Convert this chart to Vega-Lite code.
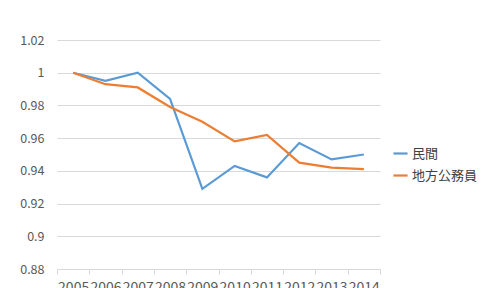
{
  "$schema": "https://vega.github.io/schema/vega-lite/v6.json",
  "width": 323,
  "height": 229,
  "autosize": {"type": "none"},
  "padding": {"left": 57, "top": 40, "right": 118, "bottom": 19},
  "background": "white",
  "config": {
    "view": {"stroke": null},
    "font": "Noto Sans CJK JP",
    "axis": {"labelFont": "Noto Sans CJK JP", "labelColor": "#595959", "labelFontSize": 12.5}
  },
  "data": {"values": [
    {"year": "2005", "series": "民間", "value": 1.0},
    {"year": "2006", "series": "民間", "value": 0.995},
    {"year": "2007", "series": "民間", "value": 1.0},
    {"year": "2008", "series": "民間", "value": 0.984},
    {"year": "2009", "series": "民間", "value": 0.929},
    {"year": "2010", "series": "民間", "value": 0.943},
    {"year": "2011", "series": "民間", "value": 0.936},
    {"year": "2012", "series": "民間", "value": 0.957},
    {"year": "2013", "series": "民間", "value": 0.947},
    {"year": "2014", "series": "民間", "value": 0.95},
    {"year": "2005", "series": "地方公務員", "value": 1.0},
    {"year": "2006", "series": "地方公務員", "value": 0.993},
    {"year": "2007", "series": "地方公務員", "value": 0.991},
    {"year": "2008", "series": "地方公務員", "value": 0.979},
    {"year": "2009", "series": "地方公務員", "value": 0.97},
    {"year": "2010", "series": "地方公務員", "value": 0.958},
    {"year": "2011", "series": "地方公務員", "value": 0.962},
    {"year": "2012", "series": "地方公務員", "value": 0.945},
    {"year": "2013", "series": "地方公務員", "value": 0.942},
    {"year": "2014", "series": "地方公務員", "value": 0.941}
  ]},
  "mark": {"type": "line", "strokeWidth": 2.2},
  "encoding": {
    "x": {
      "field": "year", "type": "ordinal", "title": null,
      "scale": {"type": "band", "paddingInner": 0, "paddingOuter": 0},
      "axis": {"labelAngle": 0, "labelOverlap": false, "tickBand": "extent", "domainColor": "#d9d9d9", "tickColor": "#d9d9d9", "tickSize": 5, "labelPadding": 6, "labelFontSize": 14, "grid": false}
    },
    "y": {
      "field": "value", "type": "quantitative", "title": null,
      "scale": {"domain": [0.88, 1.02], "nice": false, "zero": false},
      "axis": {"values": [0.88, 0.9, 0.92, 0.94, 0.96, 0.98, 1, 1.02], "domain": false, "ticks": false, "labelPadding": 13, "gridColor": "#d9d9d9", "labelExpr": "datum.value == 1 ? '1' : datum.value == 0.9 ? '0.9' : format(datum.value, '.2f')"}
    },
    "color": {
      "field": "series", "type": "nominal", "title": null,
      "scale": {"domain": ["民間", "地方公務員"], "range": ["#5B9BD5", "#ED7D31"]},
      "legend": {"orient": "none", "legendX": 335, "legendY": 105, "symbolType": "stroke", "symbolSize": 200, "symbolStrokeWidth": 2.2, "labelFontSize": 13, "labelColor": "#404040", "rowPadding": 6, "labelOffset": 3}
    }
  }
}
